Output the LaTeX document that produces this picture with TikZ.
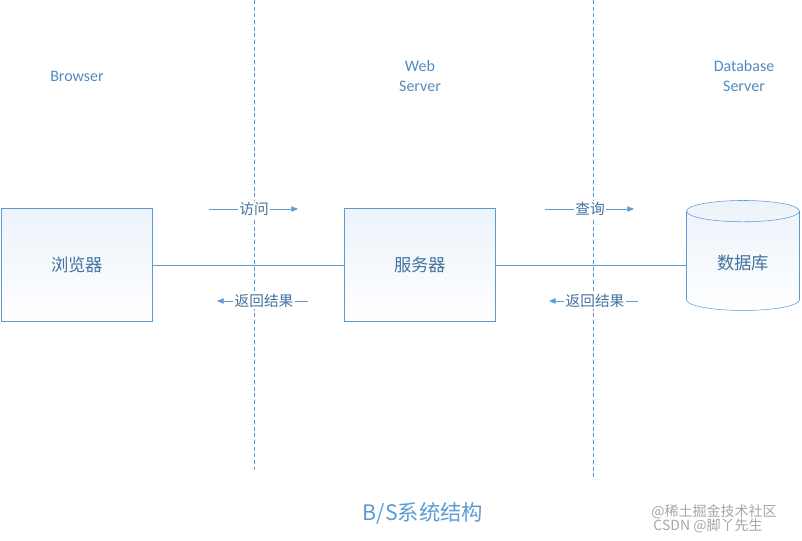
\documentclass[tikz,border=0pt]{standalone}
\usepackage{fontspec}
\setmainfont{Carlito}
\newfontfamily\cjk{Noto Sans CJK SC}
\usetikzlibrary{shapes.geometric,arrows.meta}
\definecolor{ln}{RGB}{91,155,213}
\definecolor{tx}{RGB}{68,114,160}
\begin{document}
\begin{tikzpicture}[x=0.75pt,y=-0.75pt,
  lbl/.style={text=ln!90!black,font=\fontsize{12}{15}\selectfont,align=center},
  box/.style={draw=ln,top color=ln!12,bottom color=white,minimum width=113.25pt,minimum height=84.75pt,font=\cjk\fontsize{13}{15}\selectfont,text=tx},
  sep/.style={draw=ln,dash pattern=on 3pt off 2pt,semithick},
  msg/.style={draw=ln,-{Triangle[length=5pt,width=4pt]}},
  mt/.style={fill=white,inner sep=1pt,font=\cjk\fontsize{11}{13}\selectfont,text=tx}]
\useasboundingbox (0,0) rectangle (802,540);
\coordinate (s1t) at (254,0); \coordinate (s1b) at (254,470);
\coordinate (s2t) at (593,0); \coordinate (s2b) at (593,480);
\draw[sep] (s1t) -- (s1b);
\draw[sep] (s2t) -- (s2b);
\node[lbl] (l1) at (77,76) {Browser};
\node[lbl] (l2) at (420,76) {Web\\Server};
\node[lbl] (l3) at (744,76) {Database\\Server};
\node[box] (b) at (77,265) {浏览器};
\node[box] (s) at (420,265) {服务器};
\node[cylinder,shape border rotate=90,aspect=0.35,draw=ln,top color=ln!12,bottom color=white,minimum width=84.75pt,minimum height=82.5pt,font=\cjk\fontsize{13}{15}\selectfont,text=tx] (d) at (743,263) {数据库};
\coordinate (dw) at (687,265);
\draw[ln] (b.east) -- (s.west);
\draw[ln] (s.east) -- (dw);
\coordinate (a1s) at (209,209); \coordinate (a1e) at (298,209);
\draw[msg] (a1s) -- (a1e); \node[mt] (t1) at (254,209) {访问};
\coordinate (a2s) at (545,209); \coordinate (a2e) at (634,209);
\draw[msg] (a2s) -- (a2e); \node[mt] (t2) at (590,209) {查询};
\coordinate (a3s) at (308,301); \coordinate (a3e) at (217,301);
\draw[msg] (a3s) -- (a3e); \node[mt] (t3) at (264,301) {返回结果};
\coordinate (a4s) at (638,301); \coordinate (a4e) at (549,301);
\draw[msg] (a4s) -- (a4e); \node[mt] (t4) at (595,301) {返回结果};
\node[text=ln,font=\cjk\fontsize{16}{18}\selectfont] (title) at (423,513) {B/S系统结构};
\node[text=gray!70,font=\cjk\fontsize{10.5}{12}\selectfont] (w1) at (714,512) {@稀土掘金技术社区};
\node[text=gray!70,font=\cjk\fontsize{10.5}{12}\selectfont] (w2) at (708,526) {CSDN @脚丫先生};
\end{tikzpicture}
\end{document}
